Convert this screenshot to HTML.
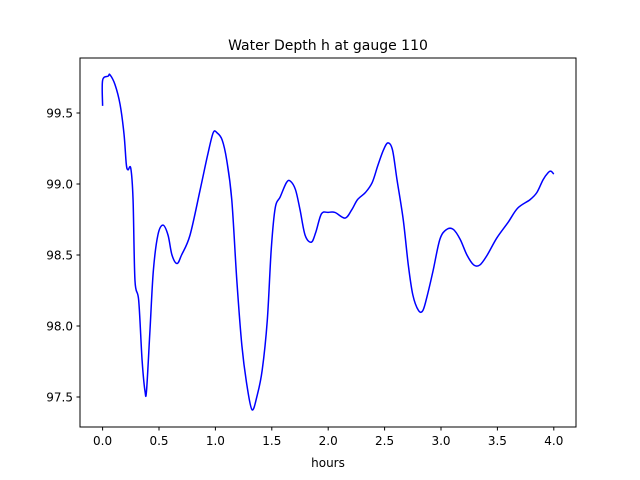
<!DOCTYPE html>
<html><head><meta charset="utf-8"><style>
body{margin:0;background:#fff;}
svg{display:block;font-family:"DejaVu Sans","Liberation Sans",sans-serif;}
</style></head><body>
<svg id="chart" width="640" height="480" viewBox="0 0 640 480">
<rect width="640" height="480" fill="#fff"/>
<text x="328" y="50" text-anchor="middle" font-size="14">Water Depth h at gauge 110</text>
<g id="ticks"></g>
<path id="line" fill="none" stroke="#0000ff" stroke-width="1.5" stroke-linejoin="round"/>
<rect x="80" y="58" width="496" height="369" fill="none" stroke="#000" stroke-width="1"/>
<text x="328" y="467" text-anchor="middle" font-size="12">hours</text>
</svg>
<script>
const hours=[0,0,0.05,0.065,0.11,0.155,0.19,0.21,0.225,0.25,0.27,0.287,0.32,0.35,0.376,0.39,0.42,0.45,0.49,0.535,0.58,0.615,0.66,0.70,0.775,0.865,0.93,0.98,1.015,1.06,1.10,1.145,1.19,1.235,1.28,1.325,1.37,1.415,1.46,1.495,1.53,1.575,1.63,1.665,1.71,1.75,1.795,1.85,1.89,1.94,2.0,2.06,2.15,2.21,2.26,2.33,2.39,2.44,2.49,2.53,2.57,2.61,2.665,2.71,2.75,2.80,2.84,2.88,2.93,2.99,3.05,3.11,3.17,3.23,3.29,3.345,3.41,3.495,3.595,3.68,3.79,3.85,3.905,3.95,3.975,4.0];
const depth=[99.55,99.73,99.76,99.77,99.70,99.56,99.35,99.14,99.10,99.11,98.89,98.32,98.18,97.76,97.54,97.55,97.97,98.39,98.64,98.71,98.64,98.50,98.44,98.50,98.64,98.96,99.20,99.36,99.36,99.31,99.17,98.89,98.32,97.86,97.58,97.41,97.51,97.69,98.04,98.54,98.83,98.91,99.01,99.02,98.96,98.82,98.64,98.59,98.66,98.79,98.80,98.80,98.76,98.82,98.89,98.94,99.01,99.13,99.24,99.29,99.24,99.03,98.75,98.43,98.22,98.11,98.11,98.22,98.39,98.61,98.68,98.68,98.61,98.50,98.43,98.43,98.50,98.62,98.73,98.83,98.89,98.94,99.03,99.08,99.09,99.07];
const xTicks=[0,0.5,1,1.5,2,2.5,3,3.5,4];
const xTickLabels=["0.0","0.5","1.0","1.5","2.0","2.5","3.0","3.5","4.0"];
const yTicks=[97.5,98,98.5,99,99.5];
const yTickLabels=["97.5","98.0","98.5","99.0","99.5"];
const X=v=>102.6+v*112.8;
const Y=v=>397-(v-97.5)*142;
const NS="http://www.w3.org/2000/svg";
const g=document.getElementById('ticks');
function mk(tag,attrs,txt){const e=document.createElementNS(NS,tag);for(const k in attrs)e.setAttribute(k,attrs[k]);if(txt!==undefined)e.textContent=txt;g.appendChild(e);return e;}
xTicks.forEach((t,i)=>{
 const l=mk('line',{x1:X(t),x2:X(t),y1:427,y2:430.5,stroke:'#000'});
 
 
 const s=mk('text',{x:X(t),y:445,'text-anchor':'middle','font-size':12},xTickLabels[i]);
 
 
});
yTicks.forEach((t,i)=>{
 const l=mk('line',{x1:76.5,x2:80,y1:Y(t),y2:Y(t),stroke:'#000'});
 
 
 const s=mk('text',{x:73,y:Y(t)+4.5,'text-anchor':'end','font-size':12},yTickLabels[i]);
 
 
});
// Catmull-Rom smoothing
const pts=hours.map((h,i)=>[X(h),Y(depth[i])]);
let d='M'+pts[0][0]+','+pts[0][1];
for(let i=0;i<pts.length-1;i++){
 const p0=pts[Math.max(0,i-1)],p1=pts[i],p2=pts[i+1],p3=pts[Math.min(pts.length-1,i+2)];
 const c1=[p1[0]+(p2[0]-p0[0])/6,p1[1]+(p2[1]-p0[1])/6];
 const c2=[p2[0]-(p3[0]-p1[0])/6,p2[1]-(p3[1]-p1[1])/6];
 d+=` C${c1[0]},${c1[1]} ${c2[0]},${c2[1]} ${p2[0]},${p2[1]}`;
}
document.getElementById('line').setAttribute('d',d);
</script>
</body></html>
